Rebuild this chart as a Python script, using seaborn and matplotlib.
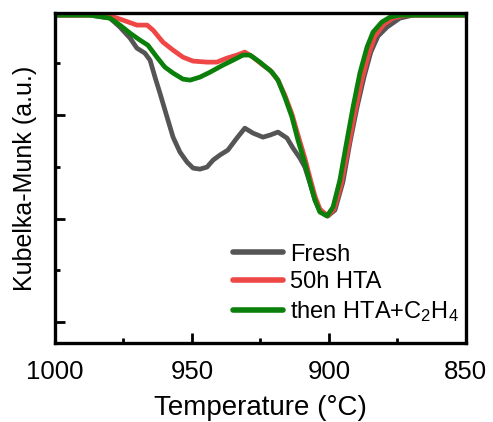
import matplotlib
matplotlib.use("Agg")
import matplotlib.pyplot as plt
import seaborn as sns
import pandas as pd
from matplotlib.ticker import MultipleLocator

sns.set_style("ticks", {"axes.edgecolor": "black", "xtick.color": "black",
                        "ytick.color": "black", "text.color": "black",
                        "axes.labelcolor": "black"})
plt.rcParams['font.family'] = ['Liberation Sans', 'DejaVu Sans']
plt.rcParams['mathtext.default'] = 'regular'

series_names = ["Fresh", "50h HTA", "then HTA+C$_2$H$_4$"]
series_colors = ["#555555", "#ef4646", "#0a800a"]

fresh_T = [1000, 987.2, 979.9, 976.3, 972.6, 970.1, 967.2, 965.3, 963.5, 961.7, 959.1, 956.9,
           954.4, 951.8, 949.6, 947.1, 944.5, 942.3, 939.8, 936.9, 933.6, 930.7, 927.7,
           924.1, 921.5, 918.6, 915.3, 913.1, 910.6, 908.8, 906.9, 905.1, 903.3, 900.4,
           897.8, 894.9, 892.3, 889.8, 887.2, 884.7, 882.1, 878.8, 874.1, 869.3, 850]
fresh_KM = [2.966, 2.966, 2.937, 2.850, 2.744, 2.647, 2.599, 2.531, 2.367, 2.213, 1.981, 1.787,
            1.643, 1.546, 1.488, 1.478, 1.498, 1.565, 1.614, 1.662, 1.778, 1.874, 1.826,
            1.787, 1.807, 1.836, 1.778, 1.681, 1.585, 1.498, 1.343, 1.179, 1.073, 1.025,
            1.082, 1.353, 1.739, 2.068, 2.367, 2.609, 2.763, 2.850, 2.937, 2.966, 2.966]

hta_T = [1000, 987.2, 979.9, 975.2, 970.1, 966.4, 964.2, 960.6, 956.9, 953.3, 949.6, 944.5,
         940.9, 937.2, 933.6, 930.7, 927.7, 924.1, 921.5, 918.6, 916.1, 913.5, 911.3, 908.8,
         906.9, 905.1, 903.3, 900.4, 898.1, 895.6, 893.0, 890.5, 888.0, 885.4, 883.2, 879.9,
         876.6, 872.3, 850]
hta_KM = [2.966, 2.966, 2.960, 2.918, 2.870, 2.870, 2.821, 2.705, 2.628, 2.560, 2.522, 2.512,
          2.512, 2.551, 2.580, 2.609, 2.560, 2.483, 2.435, 2.338, 2.193, 2.010, 1.807, 1.585,
          1.391, 1.217, 1.092, 1.025, 1.092, 1.324, 1.681, 2.029, 2.338, 2.599, 2.763, 2.879,
          2.937, 2.966, 2.966]

c2h4_T = [1000, 987.2, 979.9, 976.3, 972.6, 969.0, 966.1, 962.8, 959.9, 956.9, 953.3, 950.7,
          947.1, 943.4, 938.7, 935.0, 931.4, 928.8, 925.2, 920.8, 918.6, 916.1, 913.5, 911.3,
          908.8, 906.9, 905.1, 903.3, 900.7, 898.5, 896.0, 893.4, 891.2, 888.7, 886.1, 883.9,
          880.7, 877.7, 874.1, 850]
c2h4_KM = [2.966, 2.966, 2.937, 2.870, 2.792, 2.725, 2.676, 2.560, 2.464, 2.406, 2.348, 2.338,
           2.367, 2.415, 2.483, 2.531, 2.580, 2.580, 2.512, 2.415, 2.338, 2.174, 1.981, 1.758,
           1.536, 1.343, 1.179, 1.063, 1.025, 1.111, 1.372, 1.758, 2.077, 2.406, 2.657, 2.802,
           2.899, 2.947, 2.966, 2.966]

x_ticks = [1000, 950, 900, 850]

frames = []
for name, T, KM in zip(series_names, [fresh_T, hta_T, c2h4_T], [fresh_KM, hta_KM, c2h4_KM]):
    frames.append(pd.DataFrame({"Temperature": T, "KM": KM, "Sample": name}))
df = pd.concat(frames, ignore_index=True)

fig = plt.figure(figsize=(4.93, 4.22), dpi=100)
ax = fig.add_axes([0.1116, 0.187, 0.945 - 0.1116, 0.969 - 0.187])

sns.lineplot(data=df, x="Temperature", y="KM", hue="Sample", hue_order=series_names,
             palette=series_colors, linewidth=3.4, ax=ax, estimator=None,
             solid_joinstyle="round", solid_capstyle="round")

ax.set_xlim(1000, 850)
ax.set_ylim(-0.203, 2.986)
ax.set_xticks(x_ticks)
ax.set_xticklabels([str(t) for t in x_ticks])
ax.xaxis.set_minor_locator(MultipleLocator(25))
ax.set_yticks([0, 1, 2])
ax.set_yticklabels([])
ax.yaxis.set_minor_locator(MultipleLocator(0.5))
ax.tick_params(axis='both', which='major', direction='in', length=7, width=2,
               labelsize=18.5, pad=12)
ax.tick_params(axis='both', which='minor', direction='in', length=3.5, width=2)
ax.tick_params(axis='x', which='both', top=False)
ax.tick_params(axis='y', which='both', right=False)
for s in ax.spines.values():
    s.set_visible(True)
    s.set_linewidth(2.4)
    s.set_color("black")

ax.set_xlabel("Temperature (°C)", fontsize=20, labelpad=8)
ax.set_ylabel("Kubelka-Munk (a.u.)", fontsize=18, labelpad=1)

leg = ax.legend(loc="lower right", frameon=False, fontsize=17, handlelength=2.1,
                handletextpad=0.3, labelspacing=0.24, borderaxespad=0.0,
                bbox_to_anchor=(1.005, 0.03))
for line in leg.get_lines():
    line.set_linewidth(4)

fig.savefig("out.png", dpi=100)
